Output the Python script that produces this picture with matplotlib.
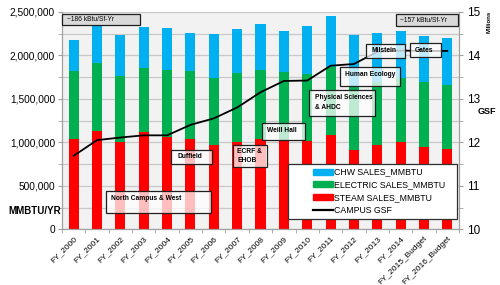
import matplotlib
matplotlib.use("Agg")
import matplotlib.pyplot as plt
from matplotlib.patches import Rectangle
from matplotlib.lines import Line2D
from matplotlib.ticker import MultipleLocator, FuncFormatter

plt.rcParams['font.family'] = ['Liberation Sans', 'DejaVu Sans']

# data
years = ['FY_2000', 'FY_2001', 'FY_2002', 'FY_2003', 'FY_2004', 'FY_2005',
         'FY_2006', 'FY_2007', 'FY_2008', 'FY_2009', 'FY_2010', 'FY_2011',
         'FY_2012', 'FY_2013', 'FY_2014', 'FY_2015_Budget', 'FY_2016_Budget']
steam = [1040000, 1125000, 1005000, 1117000, 1059000, 1035000, 972000, 1007000,
         1034000, 1026000, 1015000, 1086000, 911000, 969000, 1007000, 942000, 919000]
electric = [780000, 790000, 755000, 738000, 769000, 781000, 766000, 790000,
            794000, 779000, 774000, 781000, 719000, 721000, 733000, 748000, 741000]
chw = [360000, 430000, 470000, 470000, 484000, 442000, 508000, 500000,
       535000, 480000, 551000, 582000, 608000, 568000, 537000, 537000, 539000]
gsf = [11.69, 12.05, 12.11, 12.16, 12.16, 12.40, 12.55, 12.80, 13.15,
       13.41, 13.42, 13.76, 13.80, 14.08, 14.11, 14.10, 14.10]

C_STEAM = '#ff0000'
C_ELEC = '#00b050'
C_CHW = '#00b0f0'
GRID = '#c8c8c8'

W, H = 500, 285
fig = plt.figure(figsize=(5, 2.85), dpi=100)


def fx(x):
    return x / W


def fy(y):
    return 1 - y / H


ax = fig.add_axes([fx(62), fy(229.3), (459 - 62) / W, (229.3 - 11.8) / H])
ax.set_facecolor('#f2f2f2')

x = range(len(years))
bot2 = [s + e for s, e in zip(steam, electric)]
ax.bar(x, steam, width=0.43, color=C_STEAM, label='STEAM SALES_MMBTU')
ax.bar(x, electric, width=0.43, bottom=steam, color=C_ELEC, label='ELECTRIC SALES_MMBTU')
ax.bar(x, chw, width=0.43, bottom=bot2, color=C_CHW, label='CHW SALES_MMBTU')

ax.set_xlim(-0.5, len(years) - 0.5)
ax.set_ylim(0, 2500000)
ax.yaxis.set_major_locator(MultipleLocator(500000))
ax.yaxis.set_minor_locator(MultipleLocator(250000))
ax.yaxis.set_major_formatter(FuncFormatter(lambda v, p: f'{int(v):,}'))
ax.grid(axis='y', which='both', color=GRID, lw=0.9)
ax.set_axisbelow(True)
ax.tick_params(axis='y', which='both', labelsize=7.3, length=3, color='#a0a0a0', pad=2)

ax.set_xticks(list(x))
ax.set_xticklabels(years, rotation=45, ha='right', va='top', rotation_mode='anchor', fontsize=6)
ax.set_xticks([i + 0.5 for i in range(-1, len(years))], minor=True)
ax.tick_params(axis='x', which='major', length=0, pad=4)
ax.tick_params(axis='x', which='minor', length=3, color='#a0a0a0')

ax2 = ax.twinx()
ax2.plot(list(x), gsf, color='black', lw=1.3, label='CAMPUS GSF')
ax2.set_ylim(10, 15)
ax2.yaxis.set_major_locator(MultipleLocator(1))
ax2.yaxis.set_minor_locator(MultipleLocator(0.5))
ax2.tick_params(axis='y', which='both', labelsize=8.5, length=3, color='#a0a0a0', pad=3)

for a in (ax, ax2):
    a.spines['top'].set_visible(False)
    for s in ('left', 'right', 'bottom'):
        a.spines[s].set_color('#a0a0a0')

# axis titles
fig.text(fx(34.5), fy(211.5), 'MMBTU/YR', ha='center', va='center', fontsize=7, fontweight='bold')
fig.text(fx(487), fy(112), 'GSF', ha='center', va='center', fontsize=6.5, fontweight='bold')
fig.text(fx(489), fy(22), 'Millions', ha='center', va='center', fontsize=4.3,
         fontweight='bold', rotation=90)


def note(x0, y0, x1, y1, text, tx, ty, fill='white', alpha=0.75, weight='bold'):
    fig.add_artist(Rectangle((fx(x0), fy(y1)), (x1 - x0) / W, (y1 - y0) / H,
                             transform=fig.transFigure, facecolor=fill, alpha=alpha,
                             edgecolor='none', zorder=2))
    fig.add_artist(Rectangle((fx(x0), fy(y1)), (x1 - x0) / W, (y1 - y0) / H,
                             transform=fig.transFigure, facecolor='none',
                             edgecolor='#202020', lw=0.9, zorder=2.1))
    fig.text(fx(tx), fy(ty), text, ha='left', va='center', fontsize=4.8,
             fontweight=weight, linespacing=1.5, zorder=3)


note(62, 14, 140, 25, '~186 kBtu/Sf-Yr', 67, 19.5, fill='#d9d9d9', alpha=1, weight='normal')
note(396, 14, 458, 26, '~157 kBtu/Sf-Yr', 400, 20, fill='#d9d9d9', alpha=1, weight='normal')
note(366, 44, 405, 58, 'Milstein', 371, 51)
note(410, 43, 441, 57, 'Gates', 415, 50)
note(340, 67, 400, 86, 'Human Ecology', 345, 75)
note(309, 90, 375, 116, 'Physical Sciences\n& AHDC', 315, 102.5)
note(262, 123, 305, 140, 'Weill Hall', 267, 130)
note(233, 145, 267, 167, 'ECRF &\nEHOB', 237, 156)
note(171, 150, 212, 164, 'Duffield', 177, 156.5)
note(106, 191, 211, 213, 'North Campus & West', 111, 198)

# legend with its own frame
fig.add_artist(Rectangle((fx(288), fy(219)), (457 - 288) / W, (219 - 164) / H,
                         transform=fig.transFigure, facecolor='white',
                         edgecolor='#303030', lw=0.9, zorder=4))
handles = [Rectangle((0, 0), 1, 1, color=C_CHW), Rectangle((0, 0), 1, 1, color=C_ELEC),
           Rectangle((0, 0), 1, 1, color=C_STEAM), Line2D([], [], color='black', lw=1.6)]
labels = ['CHW SALES_MMBTU', 'ELECTRIC SALES_MMBTU', 'STEAM SALES_MMBTU', 'CAMPUS GSF']
leg = fig.legend(handles, labels, loc='upper left', bbox_to_anchor=(fx(310), fy(165)),
                 frameon=False, fontsize=6.3, handlelength=2.3, handleheight=0.7,
                 handletextpad=0.2, labelspacing=0.42, borderpad=0.3, borderaxespad=0)
leg.set_zorder(5)

fig.savefig('out.png', dpi=100)
